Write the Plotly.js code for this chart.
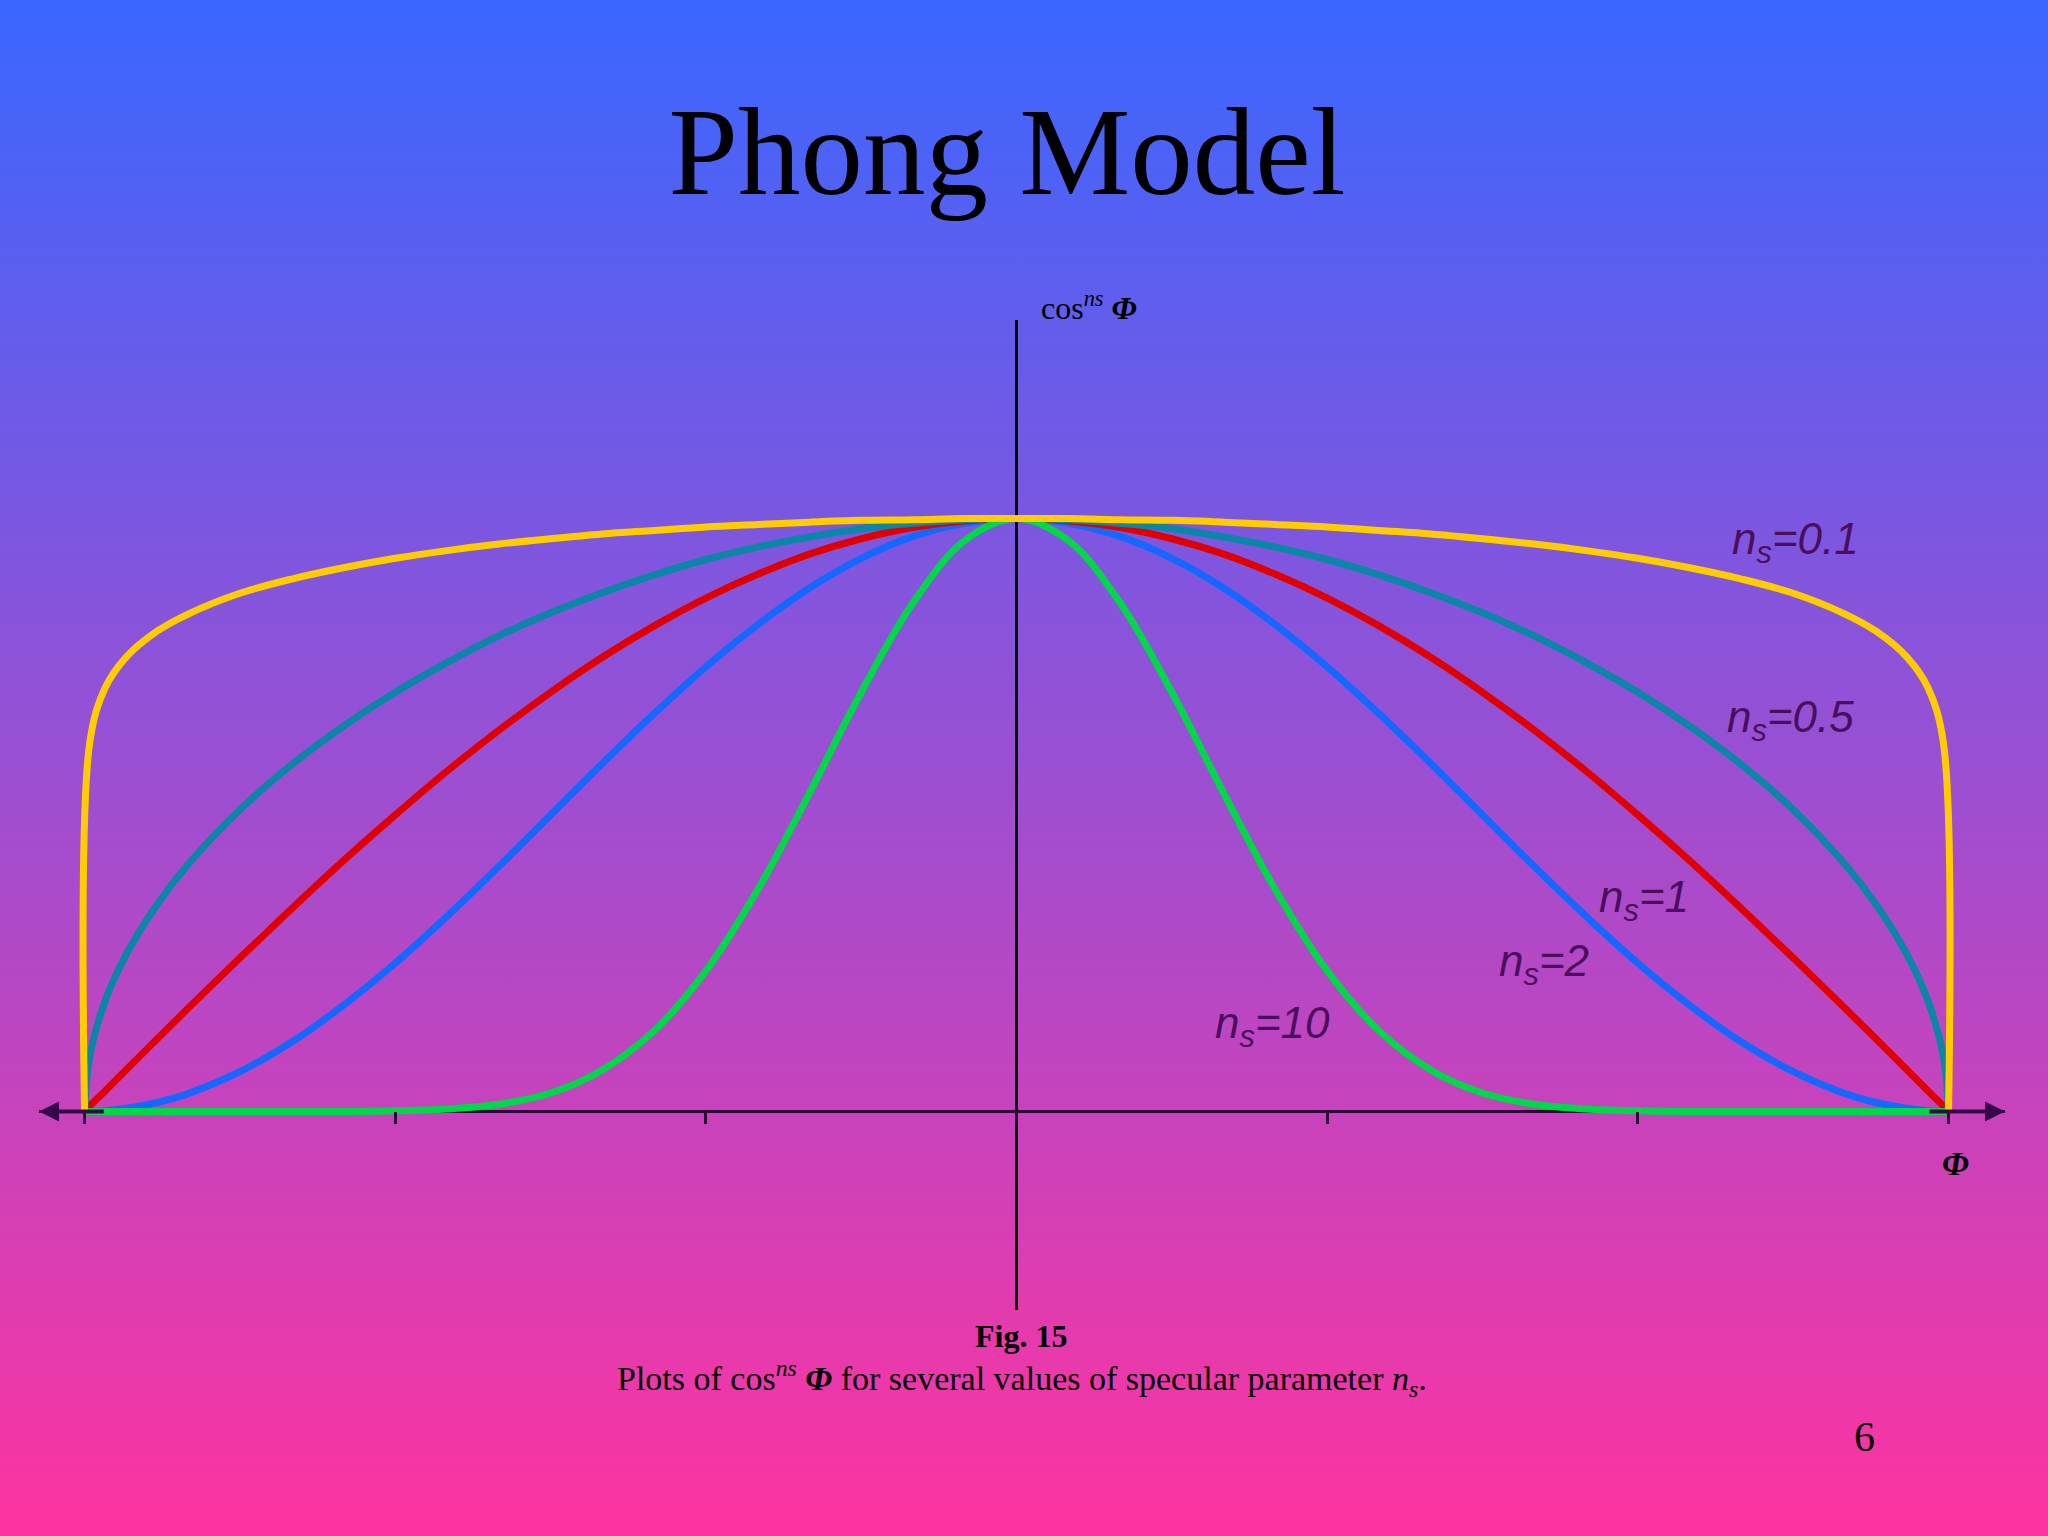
<!DOCTYPE html>
<html>
<head>
<meta charset="utf-8">
<script src="https://cdn.plot.ly/plotly-3.0.1.min.js"></script>
<style>
  html, body { margin: 0; padding: 0; }
  body { width: 2048px; height: 1536px; background: linear-gradient(to bottom, #3967ff 0%, #9b4fd2 50%, #ff33a0 100%); }
  #chart { width: 2048px; height: 1536px; }
</style>
</head>
<body>
<div id="chart"></div>
<script>
// angle phi in degrees
const phi = [-90, -89.5, -88, -86, -83, -80, -75, -70, -65, -60, -55, -50, -45, -40, -35, -30, -25, -20, -15, -10, -5, 0,
             5, 10, 15, 20, 25, 30, 35, 40, 45, 50, 55, 60, 65, 70, 75, 80, 83, 86, 88, 89.5, 90];

// cos^ns(phi)
const ns01 = [0, 0.622, 0.715, 0.766, 0.810, 0.839, 0.874, 0.898, 0.917, 0.933, 0.946, 0.957, 0.966, 0.974, 0.980, 0.986, 0.990, 0.994, 0.997, 0.998, 1.000, 1.000,
              1.000, 0.998, 0.997, 0.994, 0.990, 0.986, 0.980, 0.974, 0.966, 0.957, 0.946, 0.933, 0.917, 0.898, 0.874, 0.839, 0.810, 0.766, 0.715, 0.622, 0];
const ns05 = [0, 0.093, 0.187, 0.264, 0.349, 0.417, 0.509, 0.585, 0.650, 0.707, 0.757, 0.802, 0.841, 0.875, 0.905, 0.931, 0.952, 0.969, 0.983, 0.992, 0.998, 1.000,
              0.998, 0.992, 0.983, 0.969, 0.952, 0.931, 0.905, 0.875, 0.841, 0.802, 0.757, 0.707, 0.650, 0.585, 0.509, 0.417, 0.349, 0.264, 0.187, 0.093, 0];
const ns1 = [0, 0.009, 0.035, 0.070, 0.122, 0.174, 0.259, 0.342, 0.423, 0.500, 0.574, 0.643, 0.707, 0.766, 0.819, 0.866, 0.906, 0.940, 0.966, 0.985, 0.996, 1.000,
             0.996, 0.985, 0.966, 0.940, 0.906, 0.866, 0.819, 0.766, 0.707, 0.643, 0.574, 0.500, 0.423, 0.342, 0.259, 0.174, 0.122, 0.070, 0.035, 0.009, 0];
const ns2 = [0, 0.000, 0.001, 0.005, 0.015, 0.030, 0.067, 0.117, 0.179, 0.250, 0.329, 0.413, 0.500, 0.587, 0.671, 0.750, 0.821, 0.883, 0.933, 0.970, 0.992, 1.000,
             0.992, 0.970, 0.933, 0.883, 0.821, 0.750, 0.671, 0.587, 0.500, 0.413, 0.329, 0.250, 0.179, 0.117, 0.067, 0.030, 0.015, 0.005, 0.001, 0.000, 0];
const ns10 = [0, 0, 0, 0, 0, 0, 0, 0, 0, 0.001, 0.004, 0.012, 0.031, 0.070, 0.136, 0.237, 0.374, 0.537, 0.707, 0.858, 0.963, 1.000,
              0.963, 0.858, 0.707, 0.537, 0.374, 0.237, 0.136, 0.070, 0.031, 0.012, 0.004, 0.001, 0, 0, 0, 0, 0, 0, 0, 0, 0];

const tickAngles = [-90, -60, -30, 0, 30, 60, 90];

const W = 2048, H = 1536;
const M = {l: 39, r: 43, t: 320, b: 226};
const xRange = [-94.4, 95.45];
const yRange = [-0.335, 1.335];

// pixel -> paper helpers
const pw = W - M.l - M.r, ph = H - M.t - M.b;
const px = x => (x - M.l) / pw;
const py = y => (H - M.b - y) / ph;

const curve = (y, color) => ({
    x: phi,
    y: y,
    type: 'scatter',
    mode: 'lines',
    line: {color: color, width: 7, shape: 'spline', smoothing: 1},
    hoverinfo: 'skip'
});

const data = [
    curve(ns2, '#1468ff'),
    curve(ns1, '#e00000'),
    curve(ns05, '#0a86a6'),
    curve(ns10, '#00d84a'),
    curve(ns01, '#ffcc00')
];

const labelFont = {family: 'Liberation Sans, Arial, sans-serif', size: 44, color: '#4a0e5c'};
const serif = 'Liberation Serif, Times New Roman, serif';

const note = (text, x, y, size, xanchor, extra) => Object.assign({
    text: text, x: px(x), y: py(y), xref: 'paper', yref: 'paper',
    xanchor: xanchor || 'center', yanchor: 'middle', showarrow: false,
    font: {family: serif, size: size, color: '#000'}
}, extra || {});

const curveLabel = (n, x, y) => note('<i>n</i><sub><i>s</i></sub><i>=' + n + '</i>', x, y, 44, 'left', {font: labelFont});

const arrow = (head, tail) => ({
    x: head, y: 0, ax: tail, ay: 0, xref: 'x', yref: 'y', axref: 'x', ayref: 'y',
    text: '', showarrow: true, arrowhead: 2, arrowsize: 1, arrowwidth: 4, arrowcolor: '#36084a', standoff: 0
});

const annotations = [
    note('cos<sup><i>ns</i></sup> <b><i>Φ</i></b>', 1039, 306, 32, 'left'),
    note('<b><i>Φ</i></b>', 1955, 1163, 34),
    note('<b>Fig. 15</b>', 1021, 1336, 32),
    note('Plots of cos<sup><i>ns</i></sup> <b><i>Φ</i></b> for several values of specular parameter <i>n</i><sub><i>s</i></sub>.', 1022, 1378, 34),
    note('6', 1864, 1437, 42),
    curveLabel('0.1', 1730, 542),
    curveLabel('0.5', 1725, 720),
    curveLabel('1', 1597, 900),
    curveLabel('2', 1497, 964),
    curveLabel('10', 1213, 1026),
    arrow(xRange[0], -88),
    arrow(xRange[1], 88)
];

const layout = {
    width: W,
    height: H,
    margin: M,
    paper_bgcolor: 'rgba(0,0,0,0)',
    plot_bgcolor: 'rgba(0,0,0,0)',
    showlegend: false,
    hovermode: false,
    title: {
        text: 'Phong Model',
        font: {family: serif, size: 125, color: '#000'},
        x: 1007 / W, xanchor: 'center',
        y: 1 - 150 / H, yanchor: 'middle'
    },
    xaxis: {
        range: xRange,
        showgrid: false,
        showline: false,
        zeroline: true,
        zerolinecolor: '#000000',
        zerolinewidth: 3,
        tickvals: tickAngles,
        ticks: 'outside',
        ticklen: 12,
        tickwidth: 3,
        tickcolor: '#2b0838',
        showticklabels: false,
        anchor: 'free',
        position: (0 - yRange[0]) / (yRange[1] - yRange[0])
    },
    yaxis: {
        range: yRange,
        showgrid: false,
        showline: false,
        zeroline: true,
        zerolinecolor: '#2b0838',
        zerolinewidth: 3,
        showticklabels: false,
        ticks: ''
    },
    annotations: annotations
};

Plotly.newPlot('chart', data, layout, {staticPlot: true, displayModeBar: false});
</script>
</body>
</html>
